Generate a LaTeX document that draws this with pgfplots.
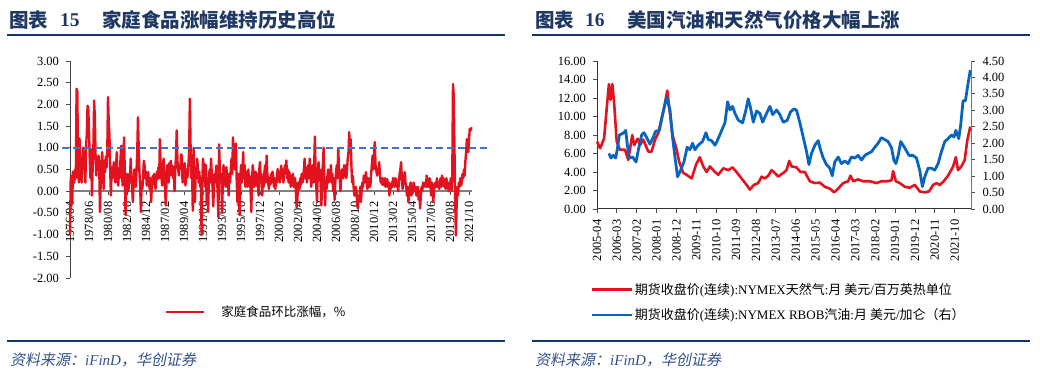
\documentclass[border=0pt]{standalone}
\usepackage{fontspec}
\setmainfont{Liberation Serif}
\newfontfamily\cjk{Noto Sans CJK SC}
\newfontfamily\cjksl{Noto Sans CJK SC}[FakeSlant=0.2]
\usepackage{pgfplots}
\pgfplotsset{compat=1.18}
\usepackage{pgfplotstable}
\definecolor{titleblue}{RGB}{31,56,100}
\definecolor{rulecol}{RGB}{16,55,110}
\definecolor{srccol}{RGB}{50,80,140}
\definecolor{linered}{RGB}{228,18,30}
\definecolor{lineblue}{RGB}{8,100,190}
\definecolor{dashblue}{RGB}{68,114,196}
\newcommand\tickfont{\fontsize{12.5}{13}\selectfont}

\pgfplotstableread[row sep=\\]{
v\\
-1.0\\ 0.3\\ 0.35\\ -0.3\\ 0.45\\ 0.44\\ 0.2\\ 0.5\\ 0.3\\ 2.36\\ 2.3\\ 0.7\\
0.2\\ 1.22\\ 0.67\\ 0.75\\ 0.2\\ 0.6\\ 1.0\\ 0.5\\ 0.9\\ 0.2\\ 1.05\\ 1.3\\
1.97\\ 1.9\\ 1.4\\ 0.75\\ 0.3\\ 0.97\\ -0.1\\ 0.55\\ 1.0\\ 2.09\\ 1.7\\ 0.8\\
0.36\\ 0.7\\ 0.5\\ 0.82\\ 0.6\\ -0.48\\ 0.2\\ 0.6\\ 0.9\\ 0.55\\ 0.05\\ 0.7\\
0.44\\ 0.8\\ 0.55\\ 0.9\\ 2.17\\ 1.6\\ 1.28\\ 0.5\\ -0.1\\ 0.55\\ 0.3\\ 0.45\\
0.67\\ 0.4\\ 0.2\\ 0.55\\ 0.9\\ 0.4\\ 0.13\\ 0.5\\ 0.3\\ 0.7\\ 1.05\\ 0.5\\
0.13\\ 0.6\\ 1.24\\ 0.4\\ -0.55\\ 0.1\\ 0.4\\ 0.2\\ 0.0\\ 0.4\\ 0.2\\ 0.75\\
0.3\\ 0.1\\ -0.25\\ 0.2\\ 0.5\\ 0.28\\ 0.1\\ 0.45\\ 0.9\\ 1.7\\ 1.0\\ 0.44\\
0.1\\ -0.48\\ 0.2\\ 0.05\\ 0.3\\ 0.7\\ 0.59\\ 0.3\\ 0.45\\ 0.13\\ 0.3\\ 0.44\\
0.2\\ 0.05\\ 0.3\\ -0.25\\ 0.1\\ 0.35\\ 0.17\\ 0.4\\ 0.2\\ 0.05\\ 0.3\\ 0.45\\
0.28\\ 0.55\\ 0.3\\ 1.2\\ 0.6\\ 0.35\\ 0.13\\ 0.5\\ 0.75\\ 0.4\\ 0.1\\ -0.33\\
0.2\\ 0.6\\ 0.51\\ 0.2\\ 0.65\\ 0.36\\ 0.7\\ 0.4\\ 0.59\\ 0.3\\ 0.55\\ 0.0\\
0.5\\ 0.8\\ 1.4\\ 0.7\\ 0.5\\ 0.36\\ 0.6\\ 0.51\\ 0.85\\ 0.8\\ 0.2\\ 0.55\\
0.4\\ 0.65\\ 0.13\\ 0.5\\ 0.3\\ 0.36\\ 0.6\\ 0.9\\ 2.13\\ 1.0\\ 0.3\\ 0.51\\
-0.45\\ 1.0\\ 0.4\\ -0.25\\ 0.5\\ 0.3\\ 0.75\\ 0.5\\ 0.2\\ 0.45\\ 0.1\\ 0.3\\
-1.0\\ 0.2\\ 0.75\\ 0.3\\ 0.63\\ 0.1\\ 0.6\\ -0.3\\ 0.2\\ -0.48\\ 0.3\\ 0.5\\
0.2\\ 0.75\\ 0.4\\ 0.1\\ -0.35\\ 0.13\\ 0.4\\ 0.2\\ 0.59\\ 0.3\\ 0.0\\ -0.6\\
1.08\\ 0.5\\ 0.2\\ 0.4\\ -0.48\\ 0.1\\ 0.6\\ 0.3\\ 0.44\\ 0.1\\ 0.55\\ 0.3\\
0.28\\ -0.1\\ 0.4\\ 0.2\\ 0.5\\ 0.75\\ 0.4\\ 1.24\\ 0.6\\ 0.98\\ 0.5\\ 1.1\\
0.3\\ -0.25\\ 0.4\\ 0.1\\ -0.55\\ 0.3\\ 0.6\\ 0.2\\ 0.5\\ 0.9\\ 0.3\\ 0.6\\
0.1\\ 0.45\\ 0.36\\ 0.1\\ 0.5\\ 0.2\\ 0.35\\ 0.05\\ -0.48\\ 0.2\\ 0.6\\ 0.44\\
0.1\\ 0.3\\ 0.45\\ 0.13\\ 0.4\\ 0.2\\ -0.1\\ 0.5\\ 0.67\\ 0.2\\ 0.4\\ -0.1\\
0.3\\ 0.1\\ 0.44\\ 0.6\\ 0.2\\ 0.82\\ 0.4\\ 0.25\\ 0.05\\ 0.3\\ 0.15\\ 0.4\\
0.2\\ 0.45\\ 0.36\\ 0.1\\ 0.3\\ 0.05\\ 0.3\\ 0.2\\ 0.51\\ 0.3\\ 0.45\\ 0.2\\
0.4\\ 0.59\\ 0.3\\ 0.5\\ 0.2\\ 0.44\\ 0.6\\ 0.4\\ 0.71\\ 0.3\\ 0.5\\ 0.2\\
0.45\\ 0.3\\ 0.1\\ 0.36\\ 0.2\\ 0.4\\ 0.1\\ 0.13\\ 0.3\\ 0.0\\ -0.37\\ -0.25\\
0.2\\ 0.1\\ 0.05\\ 0.3\\ 0.15\\ 0.4\\ 0.2\\ 0.28\\ 0.5\\ 0.75\\ 0.3\\ 0.55\\
0.2\\ 0.36\\ 0.6\\ 0.3\\ 0.75\\ 0.4\\ 0.1\\ 0.28\\ 0.6\\ 0.2\\ 0.5\\ 1.26\\
0.5\\ 0.1\\ -0.25\\ 0.4\\ 0.67\\ 0.3\\ 0.5\\ 0.1\\ -0.33\\ 0.4\\ 0.6\\ 1.0\\
0.3\\ -0.33\\ 0.2\\ 0.05\\ 0.3\\ 0.5\\ 0.2\\ 0.44\\ 0.3\\ 0.6\\ 0.2\\ 0.4\\
0.0\\ 0.3\\ -0.2\\ 0.2\\ 0.44\\ 0.6\\ 0.3\\ 0.98\\ 0.5\\ 0.3\\ 0.0\\ 0.3\\
0.5\\ 0.44\\ 0.3\\ 0.6\\ 0.4\\ 0.59\\ 0.3\\ 0.5\\ 0.75\\ 0.9\\ 1.36\\ 0.9\\
1.2\\ 0.6\\ 0.2\\ 0.35\\ 0.1\\ -0.1\\ -0.1\\ 0.1\\ 0.0\\ -0.33\\ -0.4\\ -0.1\\
-0.2\\ 0.1\\ -0.25\\ 0.0\\ 0.2\\ 0.1\\ 0.36\\ 0.2\\ 0.3\\ 0.44\\ 0.2\\ 0.05\\
0.3\\ 0.2\\ 0.1\\ 0.13\\ 0.4\\ 0.6\\ 0.82\\ 0.5\\ 0.9\\ 1.13\\ 0.6\\ 0.5\\
0.36\\ 0.5\\ 0.4\\ 0.67\\ 0.4\\ 0.2\\ 0.3\\ 0.15\\ 0.3\\ 0.2\\ 0.13\\ 0.3\\
0.1\\ 0.2\\ 0.28\\ 0.1\\ 0.2\\ -0.1\\ 0.15\\ 0.05\\ 0.2\\ 0.1\\ 0.3\\ 0.2\\
0.1\\ 0.3\\ 0.28\\ 0.1\\ 0.2\\ 0.0\\ 0.2\\ 0.4\\ 0.5\\ 0.67\\ 0.3\\ 0.05\\
0.2\\ 0.3\\ 0.44\\ 0.2\\ 0.1\\ -0.1\\ 0.1\\ -0.25\\ 0.0\\ 0.1\\ 0.2\\ -0.1\\
0.1\\ -0.05\\ 0.2\\ 0.13\\ 0.0\\ 0.1\\ -0.1\\ -0.1\\ 0.1\\ -0.2\\ 0.0\\ -0.4\\
-0.1\\ 0.1\\ 0.0\\ 0.2\\ 0.1\\ 0.13\\ 0.2\\ 0.1\\ 0.36\\ 0.1\\ 0.2\\ 0.1\\
0.3\\ 0.2\\ -0.1\\ 0.2\\ 0.1\\ -0.25\\ 0.0\\ 0.15\\ 0.2\\ 0.1\\ 0.3\\ 0.1\\
0.2\\ 0.05\\ 0.2\\ 0.3\\ 0.1\\ 0.36\\ 0.2\\ 0.3\\ 0.1\\ 0.2\\ 0.05\\ 0.3\\
0.1\\ 0.2\\ 0.0\\ 0.2\\ 0.1\\ 0.3\\ 0.0\\ 0.3\\ 2.47\\ 2.2\\ 1.0\\ -0.2\\
-1.02\\ -0.3\\ 0.1\\ -0.1\\ 0.2\\ 0.1\\ 0.3\\ 0.13\\ 0.2\\ 0.4\\ 0.3\\ 0.5\\
0.36\\ 0.7\\ 0.9\\ 1.2\\ 1.1\\ 0.9\\ 1.2\\ 1.44\\ 1.4\\ 1.45\\ 1.44\\
}\foodtable

\begin{document}
\begin{tikzpicture}
\path[use as bounding box] (0pt,0pt) rectangle (1040pt,379pt);

% ---------- titles and rules ----------
\begin{scope}[every node/.style={anchor=west, inner sep=0pt, text=titleblue, font=\fontsize{19.5}{20}\selectfont\bfseries}]
\node at (9pt,359pt) {\cjk 图表};
\node at (60pt,359pt) {15};
\node at (102pt,359pt) {\cjk 家庭食品涨幅维持历史高位};
\node at (535pt,359pt) {\cjk 图表};
\node at (585pt,359pt) {16};
\node at (627pt,359pt) {\cjk 美国汽油和天然气价格大幅上涨};
\end{scope}
\draw[rulecol, line width=2pt] (7pt,344pt) -- (505pt,344pt);
\draw[rulecol, line width=2pt] (532pt,344pt) -- (1030pt,344pt);
\draw[rulecol, line width=2pt] (7pt,38pt) -- (505pt,38pt);
\draw[rulecol, line width=2pt] (532pt,38pt) -- (1030pt,38pt);
\node[anchor=west, inner sep=0pt, text=srccol, font=\fontsize{15}{16}\selectfont] at (10pt,19pt) {{\cjksl 资料来源：}{\itshape iFinD}{\cjksl ，华创证券}};
\node[anchor=west, inner sep=0pt, text=srccol, font=\fontsize{15}{16}\selectfont] at (535pt,19pt) {{\cjksl 资料来源：}{\itshape iFinD}{\cjksl ，华创证券}};

% ---------- left chart ----------
\begin{axis}[
  at={(70pt,101pt)}, anchor=south west, scale only axis,
  width=402pt, height=217pt,
  xmin=0, xmax=550, ymin=-2, ymax=3,
  axis x line*=middle, axis y line*=left,
  hide obscured x ticks=false, hide obscured y ticks=false,
  x axis line style={draw=black!50, line width=1.8pt},
  y axis line style={draw=black!75, line width=1pt},
  tick align=outside, major tick length=4pt,
  tick style={black!70, line width=0.8pt},
  ytick={-2,-1.5,...,3},
  yticklabel style={font=\tickfont, xshift=-3.5pt, /pgf/number format/.cd, fixed, fixed zerofill, precision=2, assume math mode=true},
  xtick={0,26,...,546},
  xticklabels={1976/04,1978/06,1980/08,1982/10,1984/12,1987/02,1989/04,1991/06,1993/08,1995/10,1997/12,2000/02,2002/04,2004/06,2006/08,2008/10,2010/12,2013/02,2015/04,2017/06,2019/08,2021/10},
  xticklabel style={font=\tickfont, yshift=-3pt, rotate=90, anchor=east},
  clip=false,
  legend style={draw=none, fill=none, at={(0.236,-0.157)}, anchor=west, inner sep=0pt,
    font=\fontsize{12.5}{13}\selectfont},
  legend image code/.code={\draw[#1] (0pt,0pt) -- (38pt,0pt);},
]
\addplot[linered, line width=2.4pt, line join=round] table[x expr=\coordindex, y=v] {\foodtable};
\addlegendentry{\hspace*{14pt}\cjk 家庭食品环比涨幅，\%}
\addplot[dashblue, line width=1.8pt, dash pattern=on 7pt off 4pt, forget plot] coordinates {(-11,1) (570,1)};
\end{axis}

% ---------- right chart, left axis ----------
\begin{axis}[
  at={(597pt,170pt)}, anchor=south west, scale only axis,
  width=374pt, height=148pt,
  xmin=0, xmax=207, ymin=0, ymax=16,
  axis x line*=bottom, axis y line*=left,
  axis line style={draw=black!80, line width=1pt},
  tick align=outside, major tick length=4pt,
  tick style={black!70, line width=0.8pt},
  ytick={0,2,...,16},
  yticklabel style={font=\tickfont, xshift=-3.5pt, /pgf/number format/.cd, fixed, fixed zerofill, precision=2, assume math mode=true},
  xtick={0,11,...,198},
  xticklabels={2005-04,2006-03,2007-02,2008-01,2008-12,2009-11,2010-10,2011-09,2012-08,2013-07,2014-06,2015-05,2016-04,2017-03,2018-02,2019-01,2019-12,2020-11,2021-10},
  xticklabel style={font=\tickfont, yshift=-3pt, rotate=90, anchor=east},
  clip=false,
]
\addplot[linered, line width=2.6pt, line join=round] coordinates {
(0,7.3)(1.7,6.56)(3.9,7.6)(5.7,11.6)(6.6,13.5)(7.5,11.8)(8.5,13.5)(9.5,11.4)(10.9,7.3)(12.7,6.4)(15.5,6.4)(17.3,5.3)(19.5,8.0)(20.6,6.9)(22.5,7.6)(23.8,6.9)(25.6,7.5)(28.4,6.2)(30.2,6.2)(32.1,7.5)(33.9,8.2)(35.8,9.8)(37.6,11.4)(38.9,12.8)(40.4,10.3)(41.8,8.0)(43.7,6.7)(45.5,5.1)(47.7,3.9)(49.6,3.7)(52.4,3.3)(54.8,4.8)(56.9,5.6)(58.8,4.6)(60.7,4.0)(62.5,4.6)(65.3,4.0)(67.1,3.7)(69.9,4.4)(72.6,4.2)(75.0,4.5)(77.2,4.0)(80.0,3.3)(82.8,2.6)(84.6,2.1)(86.8,2.6)(89.2,2.8)(91.1,3.5)(92.9,3.3)(94.8,3.6)(96.6,4.2)(98.4,3.9)(100.3,3.5)(103.1,3.9)(104.9,4.2)(106.4,5.2)(107.7,4.6)(110.4,4.5)(112.6,4.0)(115.0,4.0)(117.8,3.0)(120.6,2.8)(123.3,2.85)(126.1,2.4)(128.9,2.2)(131.3,1.8)(133.5,2.2)(136.2,2.8)(139.0,3.0)(140.3,3.6)(141.8,3.0)(144.5,3.2)(147.3,3.0)(151.0,3.0)(154.7,2.8)(157.4,3.0)(161.1,3.0)(163.0,3.1)(163.9,4.1)(165.4,3.0)(167.6,2.8)(170.4,2.4)(173.1,2.3)(175.9,2.6)(178.6,1.9)(181.4,1.8)(183.8,1.9)(186.0,2.6)(187.9,2.8)(189.7,2.6)(191.9,3.0)(194.3,3.6)(197.1,4.6)(198.6,5.6)(199.8,4.2)(201.7,4.6)(203.5,5.3)(205.0,7.5)(206.6,8.9)
};
\end{axis}

% ---------- right chart, right axis ----------
\begin{axis}[
  at={(597pt,170pt)}, anchor=south west, scale only axis,
  width=374pt, height=148pt,
  xmin=0, xmax=207, ymin=0, ymax=4.5,
  axis x line=none, axis y line*=right,
  axis line style={draw=black!55, line width=1pt},
  tick align=outside, major tick length=4pt,
  tick style={black!70, line width=0.8pt},
  ytick={0,0.5,...,4.5},
  yticklabel style={font=\tickfont, xshift=4pt, /pgf/number format/.cd, fixed, fixed zerofill, precision=2, assume math mode=true},
  clip=false,
  legend style={draw=none, fill=none, at={(-0.019,-0.486)}, anchor=north west, inner sep=0pt, row sep=9pt,
    font=\fontsize{13}{14}\selectfont, /tikz/every even column/.append style={column sep=1pt}},
  legend cell align=left,
  legend image code/.code={\draw[#1] (0pt,0pt) -- (40pt,0pt);},
]
\addlegendimage{linered, line width=2.6pt}
\addlegendentry{{\cjk 期货收盘价}({\cjk 连续}):NYMEX{\cjk 天然气}:{\cjk 月 美元}/{\cjk 百万英热单位}}
\addplot[lineblue, line width=2.8pt, line join=round] coordinates {
(6.6,1.69)(7.7,1.55)(9.0,1.63)(10.3,1.55)(11.2,1.80)(12.4,2.25)(14.6,2.31)(15.9,2.39)(16.8,1.94)(17.9,1.55)(19.7,1.58)(21.6,1.43)(22.9,1.80)(24.7,2.25)(26.0,2.32)(27.8,2.14)(29.3,1.97)(31.2,2.19)(32.4,2.36)(34.5,2.39)(36.3,2.87)(38.5,3.40)(40.4,3.01)(41.8,2.19)(43.1,1.60)(44.6,0.98)(46.3,1.18)(48.1,1.43)(49.9,1.88)(51.4,1.80)(52.9,2.00)(54.2,1.80)(56.0,1.94)(58.4,2.05)(60.3,2.32)(61.6,2.11)(63.4,2.08)(65.3,1.94)(67.1,2.14)(69.0,2.39)(70.8,2.62)(72.3,3.26)(73.6,3.01)(75.0,3.12)(76.4,2.90)(78.2,2.70)(80.6,2.62)(82.4,3.01)(83.7,3.35)(85.0,3.07)(86.5,2.64)(88.3,2.98)(90.2,2.90)(91.7,2.64)(93.8,2.90)(95.7,3.12)(97.2,2.87)(99.4,3.01)(101.2,2.87)(103.1,2.64)(105.3,2.70)(107.1,2.95)(108.9,3.04)(110.4,3.01)(112.3,2.62)(114.1,2.19)(116.0,1.74)(117.3,1.35)(118.7,1.69)(120.6,1.94)(122.4,2.08)(123.7,1.80)(125.2,1.55)(127.0,1.35)(128.9,1.24)(130.2,1.01)(131.6,1.43)(133.5,1.58)(135.3,1.38)(137.2,1.46)(139.0,1.38)(140.8,1.58)(142.7,1.55)(144.5,1.63)(146.4,1.49)(148.2,1.63)(150.1,1.69)(151.9,1.74)(153.8,1.88)(155.6,2.00)(157.4,2.17)(159.3,2.11)(161.1,2.05)(163.0,1.86)(164.3,1.49)(165.4,1.38)(166.7,1.63)(168.1,2.05)(169.4,1.94)(170.9,1.80)(172.7,1.63)(174.9,1.63)(176.8,1.55)(178.6,1.18)(180.1,0.68)(181.4,0.98)(183.2,1.24)(185.1,1.24)(186.9,1.18)(188.8,1.38)(190.6,1.74)(192.5,2.05)(194.3,2.14)(196.2,2.25)(197.6,2.19)(198.6,2.39)(200.2,2.14)(201.3,2.56)(202.6,3.29)(203.9,3.29)(205.4,3.83)(206.6,4.22)
};
\addlegendentry{{\cjk 期货收盘价}({\cjk 连续}):NYMEX RBOB{\cjk 汽油}:{\cjk 月 美元}/{\cjk 加仑（右）}}
\end{axis}
\end{tikzpicture}
\end{document}
